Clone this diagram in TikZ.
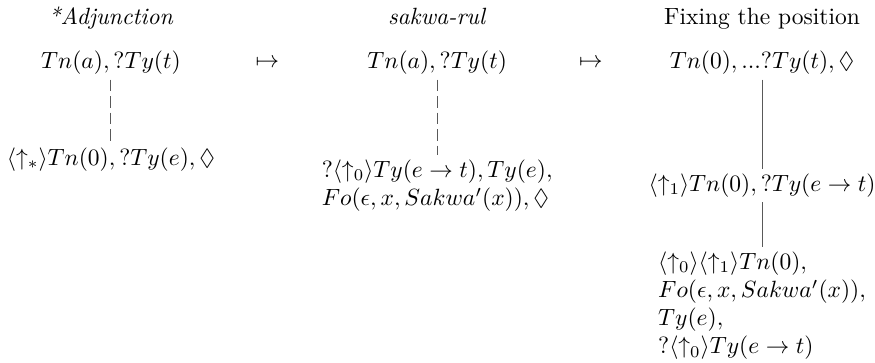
\documentclass[tikz,border=0pt]{standalone}
\usepackage{amsmath,amssymb}
\usetikzlibrary{positioning}

\begin{document}
\begin{tikzpicture}[
    tn/.style={inner sep=2pt},
    stack/.style={tn,align=left},
    hd/.style={inner sep=0pt,anchor=base},
    edge/.style={line width=0.4pt,black!65},
    link/.style={edge,dash pattern=on 5pt off 2pt}
  ]
  \useasboundingbox (0,0) rectangle (13.09,-5.43);
  % rule names and the root of each tree
  \foreach \x/\num/\hdr/\txt in {
    1.66/1/{\textit{*Adjunction}}/{$Tn(a), ?Ty(t)$},
    6.54/2/{\textit{sakwa-rul}}/{$Tn(a), ?Ty(t)$},
    11.40/3/{Fixing the position}/{$Tn(0), ...?Ty(t), \Diamond$}}{
    \node[hd] (h\num) at (\x,-0.37) {\hdr};
    \node[tn] (t\num) at (\x,-0.94) {\txt};
  }
  \node (m1) at (4.0,-0.94) {$\mapsto$};
  \node (m2) at (8.84,-0.94) {$\mapsto$};
  % daughters
  \node[tn,below=0.94cm of t1] (c1) {$\langle\uparrow_*\rangle Tn(0), ?Ty(e), \Diamond$};
  \node[stack,below=1.12cm of t2] (c2) {$?\langle\uparrow_0\rangle Ty(e\rightarrow t), Ty(e),$\\
    $Fo(\epsilon, x, Sakwa'(x)), \Diamond$};
  \node[tn,below=1.33cm of t3] (c3) {$\langle\uparrow_1\rangle Tn(0), ?Ty(e\rightarrow t)$};
  \node[stack,below=0.66cm of c3] (d3) {$\langle\uparrow_0\rangle\langle\uparrow_1\rangle Tn(0),$\\
    $Fo(\epsilon, x, Sakwa'(x)),$\\ $Ty(e),$\\ $?\langle\uparrow_0\rangle Ty(e\rightarrow t)$};
  \draw[link] (t1) -- (c1);
  \draw[link] (t2) -- (c2);
  \draw[edge] (t3) -- (c3);
  \draw[edge] (c3) -- (d3);
\end{tikzpicture}
\end{document}
